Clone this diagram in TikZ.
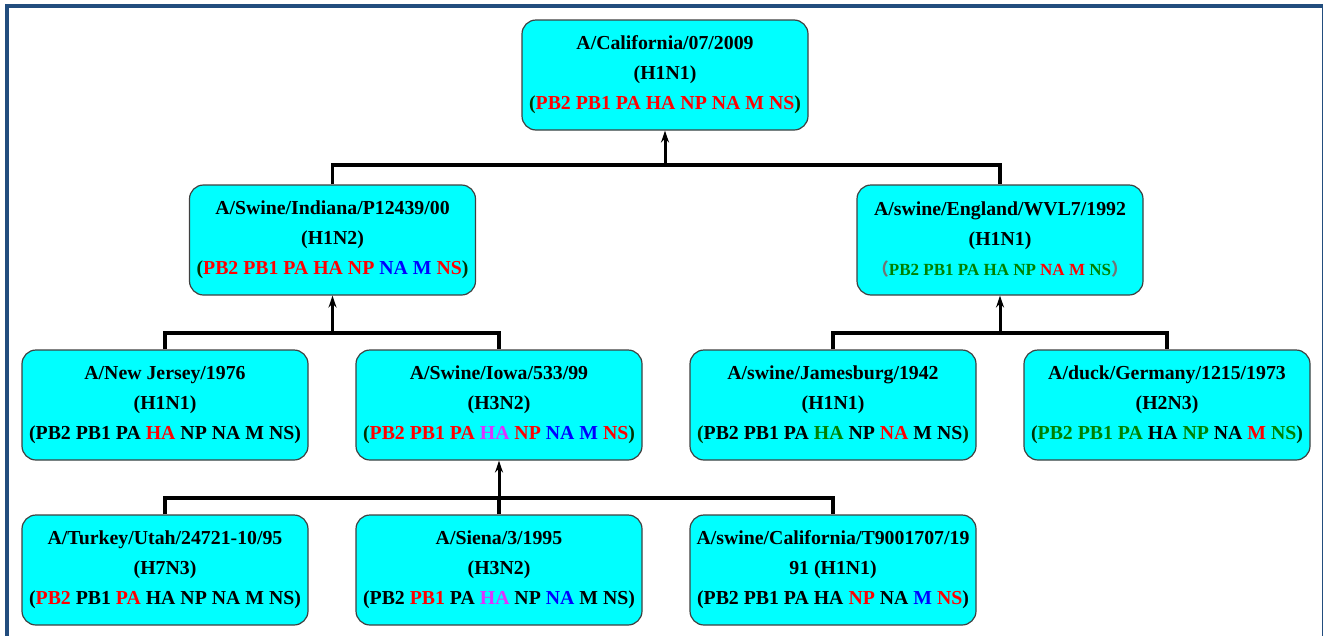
\documentclass[tikz,border=0pt]{standalone}
\usepackage{fontspec}
\setmainfont{Liberation Serif}
\newfontfamily\cjkfont{Noto Sans CJK SC}
\usetikzlibrary{arrows.meta}
\definecolor{fr}{RGB}{34,77,126}
\definecolor{bx}{RGB}{0,255,255}
\definecolor{gg}{RGB}{0,128,0}
\definecolor{rr}{RGB}{255,0,0}
\definecolor{bb}{RGB}{0,0,255}
\definecolor{mm}{RGB}{221,51,255}
\definecolor{dg}{RGB}{0,50,0}
\newcommand\gR[1]{\textcolor{rr}{#1}}
\newcommand\gG[1]{\textcolor{gg}{#1}}
\newcommand\gB[1]{\textcolor{bb}{#1}}
\newcommand\gM[1]{\textcolor{mm}{#1}}
\newcommand\dgp[1]{\textcolor{dg}{#1}}
\begin{document}
\begin{tikzpicture}[x=1pt,y=-1pt,
  box/.style={draw=black!75, line width=1.2pt, fill=bx, rounded corners=14pt,
    minimum width=286pt, minimum height=110pt, align=center, inner sep=0pt,
    font=\fontsize{19.8}{30}\selectfont\bfseries},
  conn/.style={line width=3.5pt},
  arr/.style={-{Stealth[length=12pt,width=8pt]}, line width=3pt}]
\useasboundingbox (0,0) rectangle (1323,635);
\draw[fr, line width=4pt] (6.5,6) rectangle (1324,645);

\node[box] (cal) at (665,75) {A/California/07/2009\\(H1N1)\\\dgp{(}\gR{PB2 PB1 PA HA NP NA M NS}\dgp{)}};
\node[box] (ind) at (332.5,240) {A/Swine/Indiana/P12439/00\\(H1N2)\\\dgp{(}\gR{PB2 PB1 PA HA NP }\gB{NA M }\gR{NS}\dgp{)}};
\node[box] (eng) at (1000,240) {A/swine/England/WVL7/1992\\(H1N1)\\{\fontsize{17}{30}\selectfont\textcolor{black!55}{\cjkfont （}\gG{PB2 PB1 PA HA NP }\gR{NA M }\gG{NS}\textcolor{black!55}{\cjkfont ）}}};
\node[box] (nj) at (165,405) {A/New Jersey/1976\\(H1N1)\\(PB2 PB1 PA \gR{HA} NP NA M NS)};
\node[box] (iowa) at (499,405) {A/Swine/Iowa/533/99\\(H3N2)\\\dgp{(}\gR{PB2 PB1 PA }\gM{HA }\gR{NP }\gB{NA M }\gR{NS}\dgp{)}};
\node[box] (jam) at (833,405) {A/swine/Jamesburg/1942\\(H1N1)\\\dgp{(}PB2 PB1 PA \gG{HA} NP \gR{NA} M NS\dgp{)}};
\node[box] (duck) at (1167,405) {A/duck/Germany/1215/1973\\(H2N3)\\\dgp{(}\gG{PB2 PB1 PA }HA \gG{NP} NA \gR{M} \gG{NS}\dgp{)}};
\node[box] (tur) at (165,570) {A/Turkey/Utah/24721-10/95\\(H7N3)\\(\gR{PB2} PB1 \gR{PA} HA NP NA M NS)};
\node[box] (sie) at (499,570) {A/Siena/3/1995\\(H3N2)\\(PB2 \gR{PB1} PA \gM{HA} NP \gB{NA} M NS)};
\node[box] (sca) at (833,570) {A/swine/California/T9001707/19\\91 (H1N1)\\(PB2 PB1 PA HA \gR{NP} NA \gB{M} \gR{NS})};

\coordinate (j1) at (665,165);
\coordinate (j2) at (332.5,333);
\coordinate (j3) at (1000,333);
\coordinate (j4) at (499,498);

\draw[conn] (ind.north) |- (j1) -| (eng.north);
\draw[arr] (j1) -- (cal.south);
\draw[conn] (nj.north) |- (j2) -| (iowa.north);
\draw[arr] (j2) -- (ind.south);
\draw[conn] (jam.north) |- (j3) -| (duck.north);
\draw[arr] (j3) -- (eng.south);
\draw[conn] (tur.north) |- (j4) -| (sca.north);
\draw[conn] (sie.north) -- (j4);
\draw[arr] (j4) -- (iowa.south);
\end{tikzpicture}
\end{document}
